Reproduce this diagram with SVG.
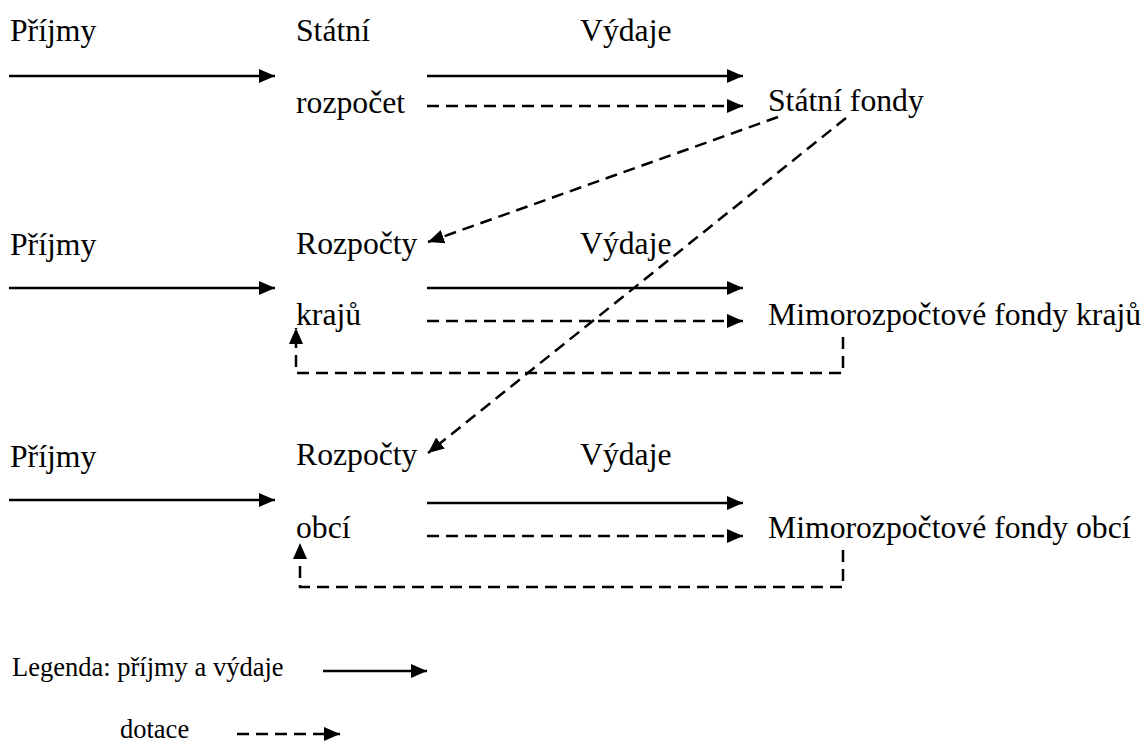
<svg xmlns="http://www.w3.org/2000/svg" width="1146" height="742" viewBox="0 0 1146 742">
<style>
text{font-family:"Liberation Serif","Times New Roman",serif;fill:#000}
.t{font-size:31.7px}
.l{font-size:26.5px}
.s{stroke:#000;stroke-width:2.5;fill:none;marker-end:url(#ah)}
.d{stroke:#000;stroke-width:2.5;fill:none;stroke-dasharray:12 7;marker-end:url(#ah)}
</style>
<defs>
<marker id="ah" markerUnits="userSpaceOnUse" markerWidth="17" markerHeight="16" viewBox="0 0 17 14" refX="16" refY="7" orient="auto">
<path d="M0,0 L16,7 L0,14 z" fill="#000"/>
</marker>
</defs>
<rect width="1146" height="742" fill="#fff"/>
<g id="row1">
<text class="t" x="10" y="41">Příjmy</text>
<text class="t" x="296" y="41">Státní</text>
<text class="t" x="296" y="113">rozpočet</text>
<text class="t" x="580" y="41">Výdaje</text>
</g>
<g id="statni-fondy"><text class="t" x="768" y="111">Státní fondy</text></g>
<g id="row2">
<text class="t" x="10" y="255">Příjmy</text>
<text class="t" x="296" y="254">Rozpočty</text>
<text class="t" x="296" y="325">krajů</text>
<text class="t" x="580" y="254">Výdaje</text>
</g>
<g id="fondy-kraju"><text class="t" x="768" y="325">Mimorozpočtové fondy krajů</text></g>
<g id="row3">
<text class="t" x="10" y="467">Příjmy</text>
<text class="t" x="296" y="465">Rozpočty</text>
<text class="t" x="296" y="538">obcí</text>
<text class="t" x="580" y="465">Výdaje</text>
</g>
<g id="fondy-obci"><text class="t" x="768" y="538">Mimorozpočtové fondy obcí</text></g>
<g id="legend">
<text class="l" x="12" y="676">Legenda: příjmy a výdaje</text>
<text class="l" x="120" y="738">dotace</text>
<line class="s" x1="323" y1="671" x2="427" y2="671"/>
<line class="d" x1="237" y1="734" x2="340" y2="734"/>
</g>
<g id="connectors">
<line class="s" x1="9" y1="76" x2="275" y2="76"/>
<line class="s" x1="427" y1="76" x2="743" y2="76"/>
<line class="d" x1="427" y1="106" x2="743" y2="106"/>
<line class="s" x1="9" y1="288" x2="275" y2="288"/>
<line class="s" x1="427" y1="288" x2="743" y2="288"/>
<line class="d" x1="427" y1="321" x2="743" y2="321"/>
<line class="s" x1="9" y1="500" x2="275" y2="500"/>
<line class="s" x1="427" y1="503" x2="743" y2="503"/>
<line class="d" x1="427" y1="536" x2="743" y2="536"/>
<line class="d" x1="778" y1="117" x2="428" y2="242"/>
<line class="d" x1="846" y1="118" x2="428" y2="453"/>
<path class="d" d="M843,337 V373 H296 V328"/>
<path class="d" d="M843,550 V587 H300 V543"/>
</g>
</svg>
